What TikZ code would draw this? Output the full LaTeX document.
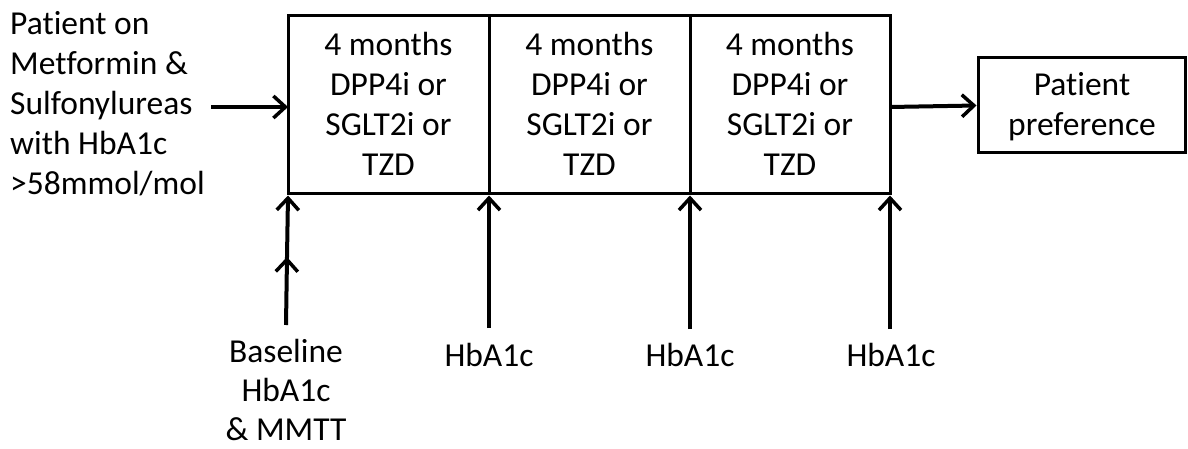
\documentclass[tikz,border=0pt]{standalone}
\usepackage{fontspec}
\setmainfont{Carlito}[Ligatures={NoCommon}]
\usetikzlibrary{arrows.meta}
\tikzset{
  lbl/.style={font=\fontsize{33.5}{40}\selectfont, align=center, inner sep=0pt},
  box/.style={draw, line width=3pt},
  arr/.style={line width=4pt, -{Straight Barb[length=12pt,width=22pt,line width=3.5pt]}},
}
\begin{document}
\begin{tikzpicture}[x=1pt,y=-1pt]
\useasboundingbox (0,0) rectangle (1188,449);
% boxes
\draw[box] (288,16) rectangle (489,194);
\draw[box] (489,16) rectangle (690,194);
\draw[box] (690,16) rectangle (890,194);
\node[box, minimum width=207pt, minimum height=95pt, inner sep=0pt] (pp) at (1081.5,105.5) {};
\node[lbl, anchor=base] at (1082,136) {Patient\\preference};
% box texts
\node[lbl, anchor=base] (b1) at (388.5,176) {4 months\\DPP4i or\\SGLT2i or\\TZD};
\node[lbl, anchor=base] (b2) at (589.5,176) {4 months\\DPP4i or\\SGLT2i or\\TZD};
\node[lbl, anchor=base] (b3) at (790,176) {4 months\\DPP4i or\\SGLT2i or\\TZD};
\coordinate (boxL) at (288,107);
\coordinate (boxR) at (890,107);
% left text
\node[lbl, align=left, anchor=base west] (left) at (10,195) {Patient on\\Metformin \&\\Sulfonylureas\\with HbA1c\\>58mmol/mol};
\coordinate (lstart) at (211,107);
\draw[arr] (lstart) -- (boxL);
\draw[arr] (boxR) -- (pp.west);
% bottom labels
\node[lbl, anchor=base, font=\fontsize{33.5}{39}\selectfont] (base) at (286,440) {Baseline\\HbA1c\\\& MMTT};
\node[lbl, anchor=base] (h1) at (489,366) {HbA1c};
\node[lbl, anchor=base] (h2) at (690,366) {HbA1c};
\node[lbl, anchor=base] (h3) at (891,366) {HbA1c};
% arrows
\coordinate (t0) at (288,195.5);
\coordinate (m0) at (287,257);
\coordinate (s0) at (286,325);
\draw[arr] (s0) -- (m0);
\draw[arr,shorten <=-2pt] (m0) -- (t0);
\coordinate (t1) at (489,195.5);
\coordinate (s1) at (489,328);
\draw[arr] (s1) -- (t1);
\coordinate (t2) at (690,195.5);
\coordinate (s2) at (690,329);
\draw[arr] (s2) -- (t2);
\coordinate (t3) at (890,195.5);
\coordinate (s3) at (890,329);
\draw[arr] (s3) -- (t3);
\end{tikzpicture}
\end{document}
